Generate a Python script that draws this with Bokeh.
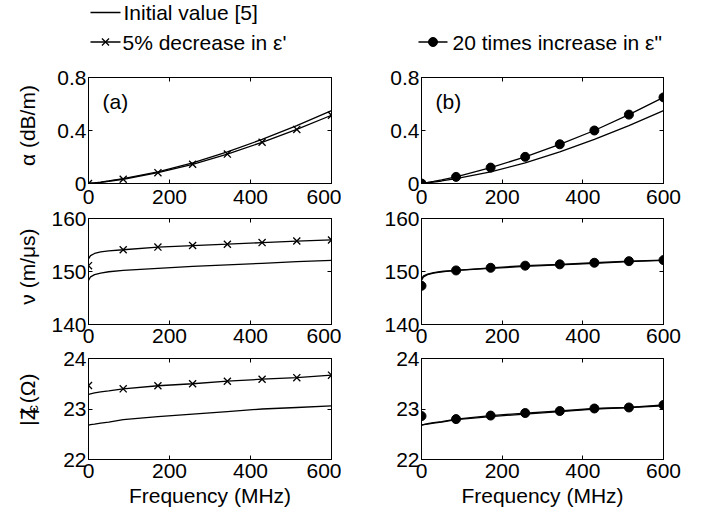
import math
from bokeh.plotting import figure
from bokeh.layouts import column, row
from bokeh.models import Range1d, LinearAxis, FixedTicker, Label
from bokeh.embed import file_html
from bokeh.resources import INLINE
from bokeh.core.properties import value

FONT = "Liberation Sans"
FS = "21px"

# ---------------- data ----------------
freq_line = [0, 5, 15, 30, 50, 85.7, 171.4, 257.1, 342.9, 428.6, 514.3, 600]
freq_mark = [0, 85.7, 171.4, 257.1, 342.9, 428.6, 514.3, 600]

# attenuation alpha (dB/m)
alpha_init = [0, 0.002, 0.005, 0.010, 0.019, 0.036, 0.087, 0.155, 0.238, 0.333, 0.437, 0.550]
alpha_dec_line = [0, 0.002, 0.005, 0.009, 0.017, 0.032, 0.082, 0.145, 0.222, 0.311, 0.408, 0.515]
alpha_dec_mark = [0, 0.032, 0.082, 0.145, 0.222, 0.311, 0.408, 0.515]
alpha_inc_line = [0, 0.003, 0.008, 0.016, 0.028, 0.050, 0.120, 0.201, 0.296, 0.400, 0.520, 0.650]
alpha_inc_mark = [0, 0.050, 0.120, 0.201, 0.296, 0.400, 0.520, 0.650]

# velocity v (m/us)
v_init = [148.3, 149.0, 149.4, 149.7, 149.95, 150.2, 150.6, 150.95, 151.25, 151.55, 151.85, 152.1]
v_dec_line = [152.4, 153.0, 153.4, 153.7, 153.9, 154.1, 154.6, 154.9, 155.15, 155.45, 155.75, 155.95]
v_dec_mark = [151.1, 154.1, 154.6, 154.9, 155.15, 155.45, 155.75, 155.95]
v_inc_line = [148.6, 149.2, 149.5, 149.8, 150.0, 150.2, 150.7, 151.1, 151.35, 151.65, 151.95, 152.15]
v_inc_mark = [147.3, 150.2, 150.7, 151.1, 151.35, 151.65, 151.95, 152.15]

# characteristic impedance |Zc| (Ohm)
z_init = [22.68, 22.69, 22.70, 22.72, 22.74, 22.79, 22.85, 22.90, 22.95, 23.00, 23.03, 23.06]
z_dec_line = [23.29, 23.30, 23.32, 23.34, 23.36, 23.40, 23.46, 23.50, 23.55, 23.59, 23.62, 23.67]
z_dec_mark = [23.465, 23.40, 23.46, 23.50, 23.55, 23.59, 23.62, 23.67]
z_inc_line = [22.68, 22.69, 22.71, 22.73, 22.75, 22.80, 22.87, 22.92, 22.96, 23.01, 23.03, 23.08]
z_inc_mark = [22.86, 22.80, 22.87, 22.92, 22.96, 23.01, 23.03, 23.08]

x_ticks = [0, 200, 400, 600]
x_tick_labels = ["0", "200", "400", "600"]
alpha_ticks = [0, 0.4, 0.8]
alpha_tick_labels = ["0", "0.4", "0.8"]
v_ticks = [140, 150, 160]
v_tick_labels = ["140", "150", "160"]
z_ticks = [22, 23, 24]
z_tick_labels = ["22", "23", "24"]

legend_labels = ["Initial value [5]", "5% decrease in \u03b5'", "20 times increase in \u03b5\""]
x_label = "Frequency (MHz)"
alpha_label = "\u03b1 (dB/m)"
v_label = "\u03bd (m/\u03bcs)"
z_label_parts = ["|Z", "c", "| (\u03a9)"]
panel_tags = ["(a)", "(b)"]

# ---------------- helpers ----------------
def style_axis(ax, ticks, labels, show, standoff):
    ax.ticker = FixedTicker(ticks=ticks)
    ax.major_tick_in = 4
    ax.major_tick_out = 0
    ax.minor_tick_in = 0
    ax.minor_tick_out = 0
    ax.axis_line_color = "black"
    ax.major_tick_line_color = "black"
    if show:
        ax.major_label_overrides = {t: l for t, l in zip(ticks, labels)}
        ax.major_label_text_font = FONT
        ax.major_label_text_font_size = FS
        ax.major_label_text_color = "black"
        ax.major_label_standoff = standoff
    else:
        ax.major_label_text_font_size = "0px"
        ax.major_label_text_color = None
        ax.major_label_standoff = 0


def panel(width, height, bl, br, bt, bb, yr, yticks, ylabels, xstand, xlabel=None):
    p = figure(width=width, height=height, x_range=Range1d(0, 600), y_range=Range1d(yr[0], yr[1]),
               output_backend="svg", toolbar_location=None,
               min_border_left=bl, min_border_right=br, min_border_top=bt, min_border_bottom=bb)
    p.grid.visible = False
    p.outline_line_color = "black"
    p.outline_line_width = 1
    p.background_fill_color = "white"
    p.border_fill_color = None
    style_axis(p.xaxis[0], x_ticks, x_tick_labels, True, xstand)
    style_axis(p.yaxis[0], yticks, ylabels, True, 2)
    if xlabel:
        p.xaxis[0].axis_label = xlabel
        p.xaxis[0].axis_label_text_font = FONT
        p.xaxis[0].axis_label_text_font_size = FS
        p.xaxis[0].axis_label_text_font_style = "normal"
        p.xaxis[0].axis_label_text_color = "black"
        p.xaxis[0].axis_label_standoff = 3
    top = LinearAxis()
    style_axis(top, x_ticks, x_tick_labels, False, 0)
    p.add_layout(top, "above")
    right = LinearAxis()
    style_axis(right, yticks, ylabels, False, 0)
    p.add_layout(right, "right")
    return p


def add_tag(p, frame_h, text):
    p.add_layout(Label(x=14, y=frame_h - 24, x_units="screen", y_units="screen", text=text,
                       text_align="left", text_baseline="middle",
                       text_font=FONT, text_font_size=FS, text_color="black"))


def strip(height, parts):
    """narrow figure holding the rotated y-axis label (pixel coordinates, y up)"""
    s = figure(width=STRIP_W, height=height, x_range=Range1d(0, STRIP_W), y_range=Range1d(0, height),
               output_backend="svg", toolbar_location=None, x_axis_type=None, y_axis_type=None,
               min_border=0)
    s.outline_line_color = None
    s.border_fill_color = None
    s.background_fill_color = None
    s.grid.visible = False
    for txt, x, y, fs in parts:
        s.text(x=[x], y=[y], text=[txt], angle=math.pi / 2, text_font=value(FONT),
               text_font_size=fs, text_align="center", text_baseline="middle", text_color="black")
    return s


LW = 1.3
STRIP_W = 48
LEFT_W, RIGHT_W = 293, 347
BL_L, BR_L, BL_R, BR_R = 40, 10, 80, 25
ROWS = [  # (height, border_top, border_bottom, margin_top, x tick standoff)
    (161, 20, 35, 0, 6),
    (161, 20, 35, -20, 4),
    (171, 20, 44, -21, 4),
]
LABEL_X = 27

specs = [
    ((0, 0.8), alpha_ticks, alpha_tick_labels,
     (alpha_init, alpha_dec_line, alpha_dec_mark), (alpha_init, alpha_inc_line, alpha_inc_mark)),
    ((140, 160), v_ticks, v_tick_labels,
     (v_init, v_dec_line, v_dec_mark), (v_init, v_inc_line, v_inc_mark)),
    ((22, 24), z_ticks, z_tick_labels,
     (z_init, z_dec_line, z_dec_mark), (z_init, z_inc_line, z_inc_mark)),
]

rows = []
for i, ((yr, yt, ytl, left_data, right_data), (h, bt, bb, mt, xs)) in enumerate(zip(specs, ROWS)):
    frame_h = h - bt - bb
    xl = x_label if i == 2 else None
    pl = panel(LEFT_W, h, BL_L, BR_L, bt, bb, yr, yt, ytl, xs, xl)
    pr = panel(RIGHT_W, h, BL_R, BR_R, bt, bb, yr, yt, ytl, xs, xl)
    init, dl, dm = left_data
    pl.line(freq_line, init, line_color="black", line_width=LW)
    pl.line(freq_line, dl, line_color="black", line_width=LW)
    pl.scatter(freq_mark, dm, marker="x", size=10, line_color="black", line_width=LW)
    init, il, im = right_data
    pr.line(freq_line, init, line_color="black", line_width=LW)
    pr.line(freq_line, il, line_color="black", line_width=LW)
    pr.scatter(freq_mark, im, marker="circle", size=9, line_color="black", fill_color="black")
    cy = bb + frame_h / 2
    if i == 0:
        s = strip(h, [(alpha_label, LABEL_X, cy, FS)])
        add_tag(pl, frame_h, panel_tags[0])
        add_tag(pr, frame_h, panel_tags[1])
    elif i == 1:
        s = strip(h, [(v_label, LABEL_X, cy, FS)])
    else:
        # rotated pieces read bottom -> top; centres along the text direction
        y0 = cy - 34
        s = strip(h, [(z_label_parts[0], LABEL_X, y0 + 9.2, FS),
                      (z_label_parts[1], LABEL_X + 5, y0 + 22.3, "15px"),
                      (z_label_parts[2], LABEL_X, y0 + 47.2, FS)])
    rows.append(row(s, pl, pr, styles={"margin-top": f"{mt}px"}))

# ---------------- legend strip ----------------
LEG_W, LEG_H = STRIP_W + LEFT_W + RIGHT_W, 57
leg = figure(width=LEG_W, height=LEG_H, x_range=Range1d(0, LEG_W), y_range=Range1d(LEG_H, 0),
             output_backend="svg", toolbar_location=None, x_axis_type=None, y_axis_type=None,
             min_border=0)
leg.outline_line_color = None
leg.border_fill_color = None
leg.background_fill_color = None
leg.grid.visible = False
leg_line_x0 = [90, 90, 418]
leg_line_x1 = [120, 120, 447]
leg_y = [12, 41.5, 41.5]
leg_text_x = [123, 122, 452]
leg.segment(x0=leg_line_x0, y0=leg_y, x1=leg_line_x1, y1=leg_y, line_color="black", line_width=LW)
leg.scatter([(leg_line_x0[1] + leg_line_x1[1]) / 2], [leg_y[1]], marker="x", size=10,
            line_color="black", line_width=LW)
leg.scatter([(leg_line_x0[2] + leg_line_x1[2]) / 2], [leg_y[2]], marker="circle", size=9,
            line_color="black", fill_color="black")
leg.text(x=leg_text_x, y=leg_y, text=legend_labels, text_font=value(FONT), text_font_size=FS,
         text_baseline="middle", text_align="left", text_color="black")

layout = column(leg, *rows)
open("out.html", "w").write(file_html(layout, INLINE))
